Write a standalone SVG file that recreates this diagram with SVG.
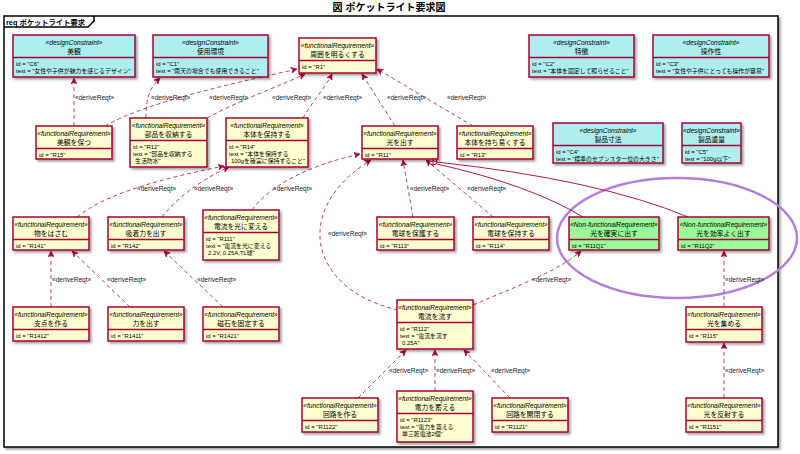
<svg xmlns="http://www.w3.org/2000/svg" width="800" height="454" viewBox="0 0 800 454">
<defs>
<filter id="sh" x="-10%" y="-10%" width="130%" height="140%">
<feGaussianBlur in="SourceAlpha" stdDeviation="1"/>
<feOffset dx="2" dy="2" result="o"/>
<feComponentTransfer><feFuncA type="linear" slope="0.35"/></feComponentTransfer>
<feMerge><feMergeNode/><feMergeNode in="SourceGraphic"/></feMerge>
</filter>
<marker id="ar" viewBox="0 0 10 10" refX="10" refY="5" markerWidth="6" markerHeight="6" markerUnits="userSpaceOnUse" orient="auto">
<path d="M0,0 L10,5 L0,10 L3,5 Z" fill="#A80036" stroke="#A80036" stroke-width="1"/>
</marker>
<style>
text{font-family:"Liberation Sans","Noto Sans CJK JP",sans-serif;fill:#000}
.fr{fill:#FEFECE;stroke:#A80036;stroke-width:1.5;filter:url(#sh)}
.dc{fill:#AFEEEE;stroke:#A80036;stroke-width:1.5;filter:url(#sh)}
.nf{fill:#98FB98;stroke:#A80036;stroke-width:1.5;filter:url(#sh)}
.dv{stroke:#A80036;stroke-width:1.5}
.st{font-size:6.6px;font-style:italic;text-anchor:middle}
.nm{font-size:6.8px;text-anchor:middle}
.at{font-size:5.9px}
.lb{font-size:6.6px;fill:#222}
.ln{fill:none;stroke:#A80036;stroke-opacity:0.75;stroke-width:1;stroke-dasharray:4 3;marker-end:url(#ar)}
.sl{fill:none;stroke:#A80036;stroke-width:0.9}
</style>
</defs>
<rect width="800" height="454" fill="#fff"/>
<text x="389" y="11" font-size="10" font-weight="bold" text-anchor="middle">図 ポケットライト要求図</text>
<g id="frame">
<rect x="4" y="16" width="774" height="431" fill="#fff" stroke="#000" stroke-width="1.5" filter="url(#sh)"/>
<path d="M4,27 H88 L94,21 V16" fill="none" stroke="#000" stroke-width="1.5"/>
<text x="6" y="24.8" font-size="7.3" font-weight="bold">req ポケットライト要求</text>
</g>
<ellipse cx="677" cy="238" rx="120" ry="60" fill="none" stroke="#B57EDC" stroke-width="2.5"/>
<g id="connectors">
<path class="ln" d="M74,126 L74,78"/>
<text class="lb" x="75" y="100">«deriveReqt»</text>
<path class="ln" d="M146,118 C146,96 150,88 160,78"/>
<text class="lb" x="151" y="100">«deriveReqt»</text>
<path class="ln" d="M105,126 C150,100 250,80 297,69"/>
<text class="lb" x="209" y="100">«deriveReqt»</text>
<path class="ln" d="M207,118 C240,100 280,86 305,74"/>
<text class="lb" x="272" y="100">«deriveReqt»</text>
<path class="ln" d="M303,118 C310,105 325,88 332,74"/>
<text class="lb" x="323" y="100">«deriveReqt»</text>
<path class="ln" d="M395,126 L362,74"/>
<text class="lb" x="387" y="100">«deriveReqt»</text>
<path class="ln" d="M473,126 L377,69"/>
<text class="lb" x="447" y="100">«deriveReqt»</text>
<path class="ln" d="M77,217 C110,190 180,175 224,166"/>
<text class="lb" x="137" y="191">«deriveReqt»</text>
<path class="ln" d="M162,217 C175,200 200,180 229,167"/>
<text class="lb" x="194" y="191">«deriveReqt»</text>
<path class="ln" d="M252,210 C270,185 310,165 360,154"/>
<text class="lb" x="273" y="191">«deriveReqt»</text>
<path class="ln" d="M398,310 C310,290 290,210 371,160"/>
<text class="lb" x="328" y="236">«deriveReqt»</text>
<path class="ln" d="M413,217 L403,160"/>
<text class="lb" x="410" y="191">«deriveReqt»</text>
<path class="ln" d="M493,217 L426,160"/>
<text class="lb" x="467" y="191">«deriveReqt»</text>
<path class="sl" d="M437,164 Q530,185 583,217"/>
<path class="sl" d="M437,162 Q600,180 688,217"/>
<circle cx="433" cy="161" r="4" fill="#fff" stroke="#A80036" stroke-width="1"/>
<path class="sl" d="M429,161 H437 M433,157 V165"/>
<path class="ln" d="M473,305 C520,285 560,270 581,251"/>
<text class="lb" x="532" y="282">«deriveReqt»</text>
<path class="ln" d="M724,307 L724,251"/>
<text class="lb" x="725" y="282">«deriveReqt»</text>
<path class="ln" d="M724,398 L724,343"/>
<text class="lb" x="725" y="373">«deriveReqt»</text>
<path class="ln" d="M51,307 L51,251"/>
<text class="lb" x="52" y="282">«deriveReqt»</text>
<path class="ln" d="M130,307 L72,251"/>
<text class="lb" x="107" y="282">«deriveReqt»</text>
<path class="ln" d="M223,307 L164,251"/>
<text class="lb" x="197" y="282">«deriveReqt»</text>
<path class="ln" d="M358,398 L406,350"/>
<text class="lb" x="389" y="373">«deriveReqt»</text>
<path class="ln" d="M435,391 L435,350"/>
<text class="lb" x="436" y="373">«deriveReqt»</text>
<path class="ln" d="M510,398 L464,350"/>
<text class="lb" x="491" y="373">«deriveReqt»</text>
</g>
<g id="C6"><rect class="dc" x="13" y="35" width="122" height="42"/><text class="st" x="74" y="45.3">«designConstraint»</text><text class="nm" x="74" y="54">美観</text><line class="dv" x1="13" y1="57.5" x2="135" y2="57.5"/><text class="at" x="16" y="65.5">id = "C6"</text><text class="at" x="16" y="72.8">text = "女性や子供が魅力を感じるデザイン"</text></g>
<g id="C1"><rect class="dc" x="153" y="35" width="115" height="42"/><text class="st" x="210.5" y="45.3">«designConstraint»</text><text class="nm" x="210.5" y="54">使用環境</text><line class="dv" x1="153" y1="57.5" x2="268" y2="57.5"/><text class="at" x="156" y="65.5">id = "C1"</text><text class="at" x="156" y="72.8">text = "雨天の場合でも使用できること"</text></g>
<g id="R1"><rect class="fr" x="299" y="38" width="77" height="35"/><text class="st" x="337.5" y="48.3">«functionalRequirement»</text><text class="nm" x="337.5" y="57">周囲を明るくする</text><line class="dv" x1="299" y1="60.5" x2="376" y2="60.5"/><text class="at" x="302" y="68.5">id = "R1"</text></g>
<g id="C2"><rect class="dc" x="529" y="35" width="105" height="42"/><text class="st" x="581.5" y="45.3">«designConstraint»</text><text class="nm" x="581.5" y="54">特徴</text><line class="dv" x1="529" y1="57.5" x2="634" y2="57.5"/><text class="at" x="532" y="65.5">id = "C2"</text><text class="at" x="532" y="72.8">text = "本体を固定して照らせること"</text></g>
<g id="C3"><rect class="dc" x="653" y="35" width="116" height="42"/><text class="st" x="711" y="45.3">«designConstraint»</text><text class="nm" x="711" y="54">操作性</text><line class="dv" x1="653" y1="57.5" x2="769" y2="57.5"/><text class="at" x="656" y="65.5">id = "C3"</text><text class="at" x="656" y="72.8">text = "女性や子供にとっても操作が容易"</text></g>
<g id="R15"><rect class="fr" x="36" y="126" width="76" height="33"/><text class="st" x="74" y="136.3">«functionalRequirement»</text><text class="nm" x="74" y="145">美観を保つ</text><line class="dv" x1="36" y1="148.5" x2="112" y2="148.5"/><text class="at" x="39" y="156.5">id = "R15"</text></g>
<g id="R12"><rect class="fr" x="130" y="118" width="77" height="49"/><text class="st" x="168.5" y="128.3">«functionalRequirement»</text><text class="nm" x="168.5" y="137">部品を収納する</text><line class="dv" x1="130" y1="140.5" x2="207" y2="140.5"/><text class="at" x="133" y="148.5">id = "R12"</text><text class="at" x="133" y="155.8">text = "部品を収納する</text><text class="at" x="135" y="163.1">生活防水"</text></g>
<g id="R14"><rect class="fr" x="226" y="118" width="82" height="49"/><text class="st" x="267" y="128.3">«functionalRequirement»</text><text class="nm" x="267" y="137">本体を保持する</text><line class="dv" x1="226" y1="140.5" x2="308" y2="140.5"/><text class="at" x="229" y="148.5">id = "R14"</text><text class="at" x="229" y="155.8">text = "本体を保持する</text><text class="at" x="231" y="163.1">100gを確実に保持すること"</text></g>
<g id="R11"><rect class="fr" x="362" y="126" width="76" height="33"/><text class="st" x="400" y="136.3">«functionalRequirement»</text><text class="nm" x="400" y="145">光を出す</text><line class="dv" x1="362" y1="148.5" x2="438" y2="148.5"/><text class="at" x="365" y="156.5">id = "R11"</text></g>
<g id="R13"><rect class="fr" x="457" y="126" width="76" height="33"/><text class="st" x="495" y="136.3">«functionalRequirement»</text><text class="nm" x="495" y="145">本体を持ち易くする</text><line class="dv" x1="457" y1="148.5" x2="533" y2="148.5"/><text class="at" x="460" y="156.5">id = "R13"</text></g>
<g id="C4"><rect class="dc" x="553" y="123" width="110" height="40"/><text class="st" x="608" y="133.3">«designConstraint»</text><text class="nm" x="608" y="142">製品寸法</text><line class="dv" x1="553" y1="145.5" x2="663" y2="145.5"/><text class="at" x="556" y="153.5">id = "C4"</text><text class="at" x="556" y="160.8">text = "標準のセブンスター位の大きさ"</text></g>
<g id="C5"><rect class="dc" x="682" y="123" width="59" height="40"/><text class="st" x="711.5" y="133.3">«designConstraint»</text><text class="nm" x="711.5" y="142">製品重量</text><line class="dv" x1="682" y1="145.5" x2="741" y2="145.5"/><text class="at" x="685" y="153.5">id = "C5"</text><text class="at" x="685" y="160.8">text = "100g以下"</text></g>
<g id="R141"><rect class="fr" x="13" y="217" width="76" height="33"/><text class="st" x="51" y="227.3">«functionalRequirement»</text><text class="nm" x="51" y="236">物をはさむ</text><line class="dv" x1="13" y1="239.5" x2="89" y2="239.5"/><text class="at" x="16" y="247.5">id = "R141"</text></g>
<g id="R142"><rect class="fr" x="108" y="217" width="76" height="33"/><text class="st" x="146" y="227.3">«functionalRequirement»</text><text class="nm" x="146" y="236">吸着力を出す</text><line class="dv" x1="108" y1="239.5" x2="184" y2="239.5"/><text class="at" x="111" y="247.5">id = "R142"</text></g>
<g id="R111"><rect class="fr" x="203" y="210" width="76" height="50"/><text class="st" x="241" y="220.3">«functionalRequirement»</text><text class="nm" x="241" y="229">電流を光に変える</text><line class="dv" x1="203" y1="232.5" x2="279" y2="232.5"/><text class="at" x="206" y="240.5">id = "R111"</text><text class="at" x="206" y="247.8">text = "電流を光に変える</text><text class="at" x="208" y="255.1">2.2V, 0.25A,TL球"</text></g>
<g id="R113"><rect class="fr" x="377" y="217" width="77" height="33"/><text class="st" x="415.5" y="227.3">«functionalRequirement»</text><text class="nm" x="415.5" y="236">電球を保護する</text><line class="dv" x1="377" y1="239.5" x2="454" y2="239.5"/><text class="at" x="380" y="247.5">id = "R113"</text></g>
<g id="R114"><rect class="fr" x="473" y="217" width="76" height="33"/><text class="st" x="511" y="227.3">«functionalRequirement»</text><text class="nm" x="511" y="236">電球を保持する</text><line class="dv" x1="473" y1="239.5" x2="549" y2="239.5"/><text class="at" x="476" y="247.5">id = "R114"</text></g>
<g id="R11Q1"><rect class="nf" x="569" y="217" width="90" height="33"/><text class="st" x="614" y="227.3">«Non-functionalRequirement»</text><text class="nm" x="614" y="236">光を確実に出す</text><line class="dv" x1="569" y1="239.5" x2="659" y2="239.5"/><text class="at" x="572" y="247.5">id = "R11Q1"</text></g>
<g id="R11Q2"><rect class="nf" x="678" y="217" width="91" height="33"/><text class="st" x="723.5" y="227.3">«Non-functionalRequirement»</text><text class="nm" x="723.5" y="236">光を効率よく出す</text><line class="dv" x1="678" y1="239.5" x2="769" y2="239.5"/><text class="at" x="681" y="247.5">id = "R11Q2"</text></g>
<g id="R1412"><rect class="fr" x="13" y="307" width="76" height="34"/><text class="st" x="51" y="317.3">«functionalRequirement»</text><text class="nm" x="51" y="326">支点を作る</text><line class="dv" x1="13" y1="329.5" x2="89" y2="329.5"/><text class="at" x="16" y="337.5">id = "R1412"</text></g>
<g id="R1411"><rect class="fr" x="108" y="307" width="76" height="34"/><text class="st" x="146" y="317.3">«functionalRequirement»</text><text class="nm" x="146" y="326">力を出す</text><line class="dv" x1="108" y1="329.5" x2="184" y2="329.5"/><text class="at" x="111" y="337.5">id = "R1411"</text></g>
<g id="R1421"><rect class="fr" x="203" y="307" width="76" height="34"/><text class="st" x="241" y="317.3">«functionalRequirement»</text><text class="nm" x="241" y="326">磁石を固定する</text><line class="dv" x1="203" y1="329.5" x2="279" y2="329.5"/><text class="at" x="206" y="337.5">id = "R1421"</text></g>
<g id="R112"><rect class="fr" x="397" y="300" width="76" height="49"/><text class="st" x="435" y="310.3">«functionalRequirement»</text><text class="nm" x="435" y="319">電流を流す</text><line class="dv" x1="397" y1="322.5" x2="473" y2="322.5"/><text class="at" x="400" y="330.5">id = "R112"</text><text class="at" x="400" y="337.8">text = "電流を流す</text><text class="at" x="402" y="345.1">0.25A"</text></g>
<g id="R115"><rect class="fr" x="686" y="307" width="76" height="35"/><text class="st" x="724" y="317.3">«functionalRequirement»</text><text class="nm" x="724" y="326">光を集める</text><line class="dv" x1="686" y1="329.5" x2="762" y2="329.5"/><text class="at" x="689" y="337.5">id = "R115"</text></g>
<g id="R1122"><rect class="fr" x="302" y="398" width="76" height="34"/><text class="st" x="340" y="408.3">«functionalRequirement»</text><text class="nm" x="340" y="417">回路を作る</text><line class="dv" x1="302" y1="420.5" x2="378" y2="420.5"/><text class="at" x="305" y="428.5">id = "R1122"</text></g>
<g id="R1123"><rect class="fr" x="397" y="391" width="76" height="51"/><text class="st" x="435" y="401.3">«functionalRequirement»</text><text class="nm" x="435" y="410">電力を蓄える</text><line class="dv" x1="397" y1="413.5" x2="473" y2="413.5"/><text class="at" x="400" y="421.5">id = "R1123"</text><text class="at" x="400" y="428.8">text = "電力を蓄える</text><text class="at" x="402" y="436.1">単三乾電池2個"</text></g>
<g id="R1121"><rect class="fr" x="492" y="398" width="76" height="34"/><text class="st" x="530" y="408.3">«functionalRequirement»</text><text class="nm" x="530" y="417">回路を開閉する</text><line class="dv" x1="492" y1="420.5" x2="568" y2="420.5"/><text class="at" x="495" y="428.5">id = "R1121"</text></g>
<g id="R1151"><rect class="fr" x="686" y="398" width="76" height="34"/><text class="st" x="724" y="408.3">«functionalRequirement»</text><text class="nm" x="724" y="417">光を反射する</text><line class="dv" x1="686" y1="420.5" x2="762" y2="420.5"/><text class="at" x="689" y="428.5">id = "R1151"</text></g>
</svg>
